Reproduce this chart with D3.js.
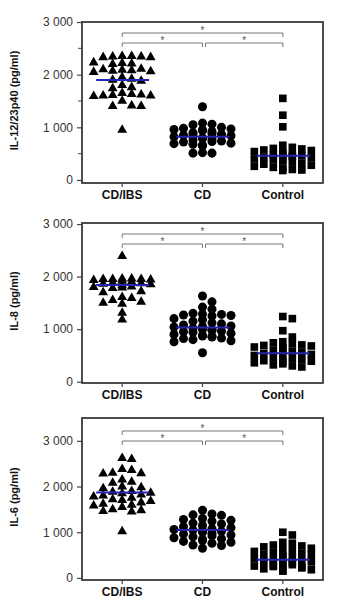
<!DOCTYPE html>
<html>
<head>
<meta charset="utf-8">
<script src="https://cdn.jsdelivr.net/npm/d3@7"></script>
<style>
  body { margin: 0; background: #fff; }
  text { font-family: "Liberation Sans", Arial, sans-serif; }
</style>
</head>
<body>
<div id="chart"></div>
<script>
const categories = ["CD/IBS", "CD", "Control"];
const yTicks = [0, 1000, 2000, 3000];
const titles = ["IL-12/23p40 (pg/ml)", "IL-8 (pg/ml)", "IL-6 (pg/ml)"];

// IL-12/23p40
const il12CdIbs = [2350, 2340, 2330, 2350, 2340, 2330, 2220, 2200, 2230, 2210, 2100, 2080, 2090, 2060, 2110, 2070, 2050,
  1950, 1920, 1900, 1880, 1800, 1760, 1740, 1620, 1600, 1610, 1630, 1590, 1600, 1650, 1500, 1410, 1400, 1400, 950];
const il12Cd = [1390, 1080, 1060, 1050, 1000, 980, 970, 960, 950, 940, 920, 900, 880, 870, 860, 850, 840, 820, 800,
  790, 780, 760, 740, 730, 720, 700, 690, 680, 660, 650, 520, 510, 510];
const il12Control = [1550, 1230, 1010, 660, 620, 600, 590, 570, 560, 540, 520, 500, 480, 470, 460, 450, 430, 420, 400,
  390, 380, 360, 340, 320, 300, 280, 260, 240, 220, 200, 190, 180];
const il12Means = [1900, 820, 460];

// IL-8
const il8CdIbs = [2390, 1960, 1950, 1950, 1940, 1960, 1950, 1930, 1920, 1900, 1880, 1870, 1860, 1850, 1830, 1810, 1800,
  1790, 1780, 1720, 1700, 1610, 1590, 1550, 1520, 1500, 1480, 1310, 1180];
const il8Cd = [1630, 1520, 1420, 1380, 1300, 1290, 1280, 1270, 1260, 1250, 1200, 1180, 1150, 1120, 1100, 1080, 1060,
  1050, 1040, 1020, 1000, 990, 980, 960, 950, 940, 920, 900, 880, 870, 860, 850, 830, 820, 800, 780, 760, 550];
const il8Control = [1240, 1200, 970, 850, 760, 740, 720, 700, 690, 680, 660, 640, 620, 600, 580, 560, 540, 520, 500,
  480, 460, 440, 420, 400, 390, 380, 360, 340, 320, 300, 280];
const il8Means = [1840, 1030, 540];

// IL-6
const il6CdIbs = [2620, 2600, 2380, 2360, 2300, 2290, 2280, 2150, 2100, 2080, 2000, 1980, 1960, 1900, 1880, 1860, 1850,
  1820, 1800, 1780, 1750, 1720, 1700, 1680, 1650, 1620, 1600, 1580, 1550, 1500, 1480, 1460, 1450, 1020];
const il6Cd = [1480, 1400, 1380, 1370, 1300, 1280, 1260, 1240, 1200, 1180, 1150, 1120, 1100, 1080, 1060, 1050, 1040,
  1020, 1000, 980, 960, 940, 920, 900, 880, 860, 840, 820, 800, 780, 760, 720, 710, 650];
const il6Control = [1000, 940, 780, 760, 720, 700, 680, 650, 620, 600, 580, 560, 540, 520, 500, 480, 460, 440, 420,
  400, 380, 360, 350, 340, 320, 300, 290, 280, 260, 250, 240, 220, 200, 180, 160, 150];
const il6Means = [1870, 1050, 400];

const panels = [
  { title: titles[0], groups: [il12CdIbs, il12Cd, il12Control], means: il12Means, top: 22, height: 161, domain: [-57, 3000], minor: true, br: 11 },
  { title: titles[1], groups: [il8CdIbs, il8Cd, il8Control], means: il8Means, top: 223, height: 160, domain: [-25, 3020], minor: false, br: 11 },
  { title: titles[2], groups: [il6CdIbs, il6Cd, il6Control], means: il6Means, top: 418, height: 162, domain: [-45, 3500], minor: false, br: 13 }
];

const W = 342, H = 610;
const left = 82, plotW = 241;

const svg = d3.select("#chart").append("svg")
    .attr("width", W)
    .attr("height", H);
svg.append("rect").attr("width", W).attr("height", H).attr("fill", "#fff");

const x = d3.scalePoint()
    .domain(categories)
    .range([0, plotW])
    .padding(0.5);

const symbols = [d3.symbolTriangle, d3.symbolCircle, d3.symbolSquare];
const symSizes = [42, 64, 58];

// simple beeswarm: spread points sideways in columns so they don't pile up
function swarm(values, y) {
  const step = 9.5;
  const offsets = [0, step, -step, 2 * step, -2 * step, 3 * step, -3 * step];
  const placed = [];
  values.slice().sort((a, b) => b - a).forEach(v => {
    const py = y(v);
    let best = 0, bestHits = Infinity;
    for (const o of offsets) {
      const hits = placed.filter(p => Math.abs(p.dx - o) < step * 0.9 && Math.abs(p.py - py) < 6.5).length;
      if (hits < bestHits) { best = o; bestHits = hits; }
      if (hits === 0) break;
    }
    placed.push({ v: v, dx: best, py: py });
  });
  return placed;
}

panels.forEach(p => {
  const g = svg.append("g").attr("transform", `translate(${left},${p.top})`);

  const y = d3.scaleLinear()
      .domain(p.domain)
      .range([p.height, 0]);

  // minor ticks
  if (p.minor) {
    g.selectAll(".minor")
      .data([500, 1500, 2500])
      .enter().append("line")
      .attr("x1", -4).attr("x2", 0)
      .attr("y1", d => y(d)).attr("y2", d => y(d))
      .attr("stroke", "#444").attr("stroke-width", 1);
  }

  const yAxis = g.append("g")
      .call(d3.axisLeft(y).tickValues(yTicks).tickSize(5).tickPadding(4)
        .tickFormat(d => d3.format(",")(d).replace(",", " ")));
  yAxis.select(".domain").remove();
  yAxis.selectAll(".tick line").attr("stroke", "#444").attr("stroke-width", 1.2);
  yAxis.selectAll(".tick text")
      .style("font-size", "12px")
      .style("fill", "#333");

  // x ticks
  g.selectAll(".xtick")
    .data(categories)
    .enter().append("line")
    .attr("x1", d => x(d)).attr("x2", d => x(d))
    .attr("y1", p.height).attr("y2", p.height + 4)
    .attr("stroke", "#444").attr("stroke-width", 1.2);

  g.selectAll(".xlab")
    .data(categories)
    .enter().append("text")
    .attr("x", d => x(d))
    .attr("y", p.height + 16)
    .attr("text-anchor", "middle")
    .style("font-size", "12px")
    .style("font-weight", "bold")
    .style("fill", "#111")
    .text(d => d);

  // frame
  g.append("rect")
    .attr("width", plotW).attr("height", p.height)
    .attr("fill", "none")
    .attr("stroke", "#3a3a3a")
    .attr("stroke-width", 1.8);

  // significance brackets
  const brackets = [
    { a: x("CD/IBS"), b: x("Control"), yy: p.br },
    { a: x("CD/IBS"), b: x("CD"), yy: p.br + 10 },
    { a: x("CD") + 3, b: x("Control"), yy: p.br + 10 }
  ];
  g.selectAll(".bracket")
    .data(brackets)
    .enter().append("path")
    .attr("d", d => `M${d.a},${d.yy + 4}V${d.yy}H${d.b}V${d.yy + 4}`)
    .attr("fill", "none")
    .attr("stroke", "#777")
    .attr("stroke-width", 1);
  g.selectAll(".star")
    .data(brackets)
    .enter().append("text")
    .attr("x", d => (d.a + d.b) / 2)
    .attr("y", d => d.yy + 1)
    .attr("text-anchor", "middle")
    .style("font-size", "10px")
    .style("fill", "#555")
    .text("*");

  // points
  p.groups.forEach((vals, i) => {
    const cx = x(categories[i]);
    g.selectAll(".pt" + i)
      .data(swarm(vals, y))
      .enter().append("path")
      .attr("d", d3.symbol().type(symbols[i]).size(symSizes[i]))
      .attr("transform", d => `translate(${cx + d.dx},${d.py})`)
      .attr("fill", "#000");
  });

  // mean lines
  g.selectAll(".mean")
    .data(p.means)
    .enter().append("line")
    .attr("x1", (d, i) => x(categories[i]) - 26)
    .attr("x2", (d, i) => x(categories[i]) + 27)
    .attr("y1", d => y(d)).attr("y2", d => y(d))
    .attr("stroke", "#2424b0")
    .attr("stroke-width", 2);

  // y title
  svg.append("text")
    .attr("transform", `translate(18,${p.top + p.height / 2 - 2}) rotate(-90)`)
    .attr("text-anchor", "middle")
    .style("font-size", "11px")
    .style("font-weight", "bold")
    .style("fill", "#111")
    .text(p.title);
});
</script>
</body>
</html>
